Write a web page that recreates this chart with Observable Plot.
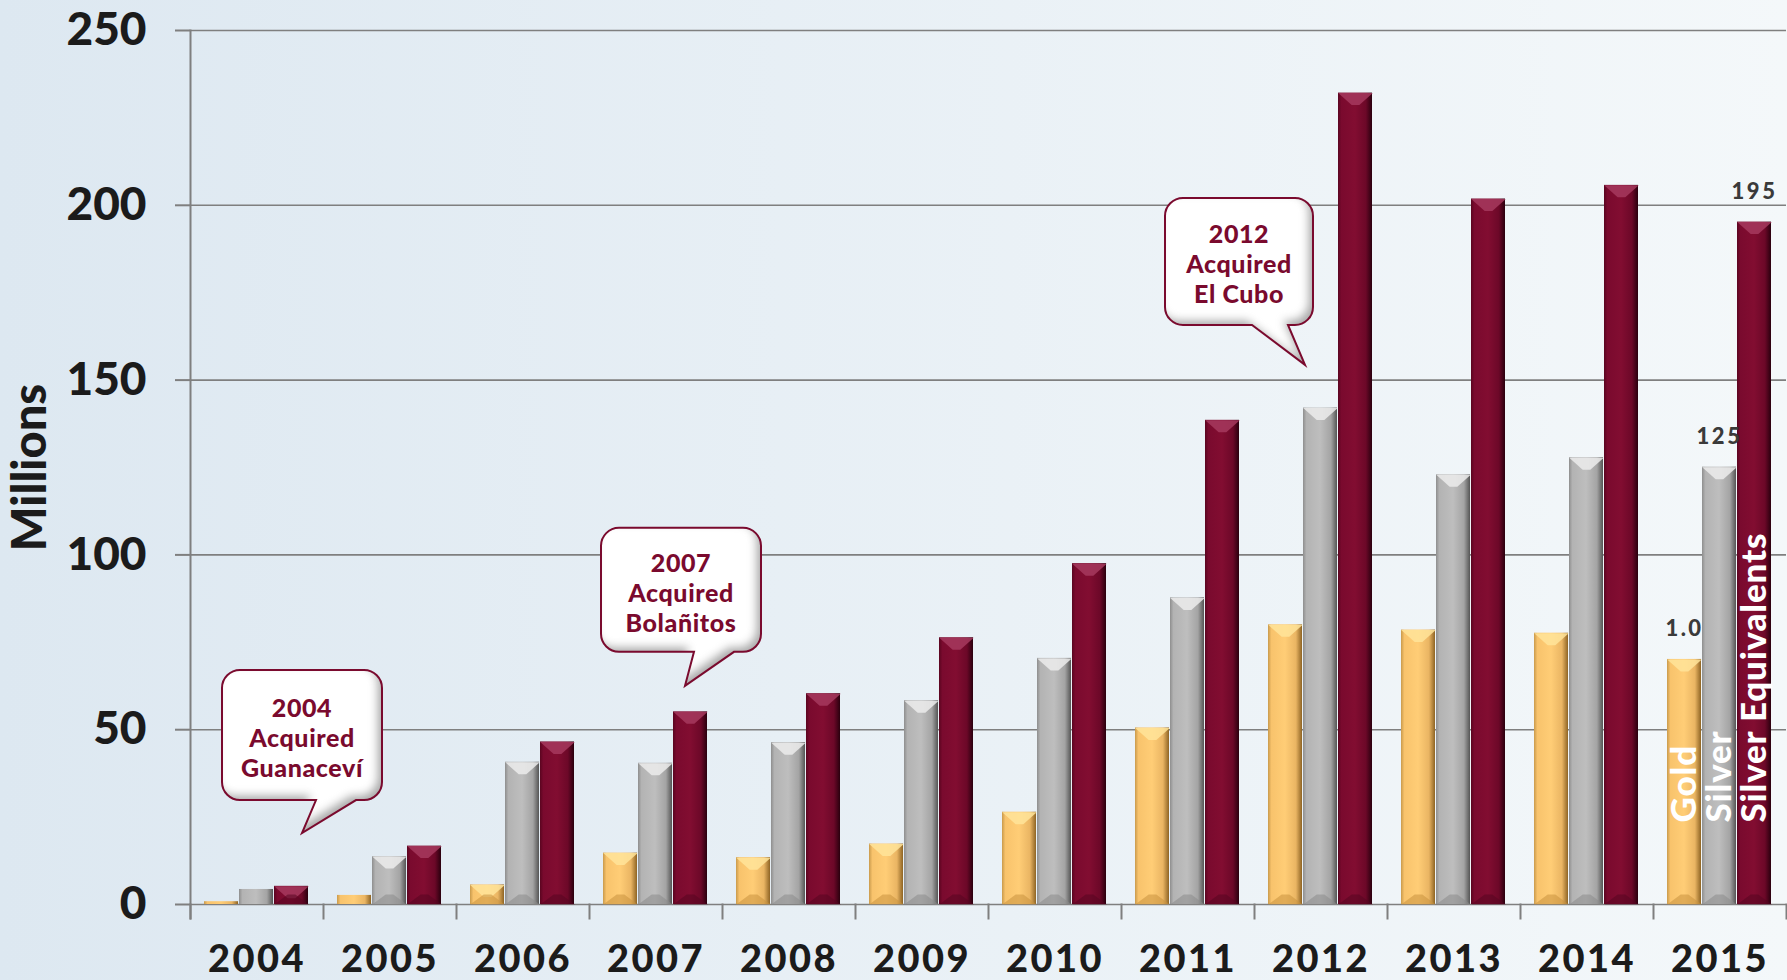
<!DOCTYPE html>
<html><head><meta charset="utf-8">
<script src="https://cdn.jsdelivr.net/npm/d3@7"></script>
<script src="https://cdn.jsdelivr.net/npm/@observablehq/plot@0.6"></script>
<style>
html,body{margin:0;padding:0;background:linear-gradient(to right,#dde8f1,#f4f8fa);}
#chart svg{display:block}
.vlabel text{letter-spacing:2.5px}
.yrs text{letter-spacing:2.5px}
.ser text{letter-spacing:0.8px}
</style></head><body><div id="chart"></div><script>
// ---- data ----
const years = [2004, 2005, 2006, 2007, 2008, 2009, 2010, 2011, 2012, 2013, 2014, 2015];
const seriesNames = ["Gold", "Silver", "Silver Equivalents"];
const gold     = [0.8, 2.6, 5.6, 14.7, 13.4, 17.3, 26.4, 50.5, 80.0, 78.5, 77.6, 70.1];
const silver   = [4.3, 13.7, 40.7, 40.4, 46.3, 58.3, 70.4, 87.7, 142.0, 122.9, 127.8, 125.1];
const silverEq = [5.2, 16.7, 46.5, 55.1, 60.3, 76.3, 97.5, 138.5, 232.1, 201.8, 205.7, 195.2];
const yTicks = [0, 50, 100, 150, 200, 250];

// 2015 value labels
const labelYear = 2015;
const labelSeries = ["Gold", "Silver", "Silver Equivalents"];
const labelValues = [70.1, 125.1, 195.2];
const labelTexts = ["1.0", "125", "195"];

// callouts
const calloutYears = [2004, 2007, 2012];
const calloutSeries = ["Silver Equivalents", "Silver Equivalents", "Silver"];
const calloutValues = [20.3, 62.4, 154.2];
const calloutLines = [["2004", "Acquired", "Guanaceví"], ["2007", "Acquired", "Bolañitos"], ["2012", "Acquired", "El Cubo"]];

// ---- styles ----
const gradId = {"Gold": "g-gold", "Silver": "g-silver", "Silver Equivalents": "g-maroon"};
const bevelTopColor = {"Gold": "#ffe49a", "Silver": "#ececec", "Silver Equivalents": "#a63a5e"};
const bevelBotColor = {"Gold": "#c9923e", "Silver": "#8a8a8a", "Silver Equivalents": "#560620"};
const maroon = "#7a0a2e";
const calloutShape = [
  {dx: 11, left: -80, right: 80, top: -163, bottom: -33, b1: 14, b2: 54},
  {dx: -5, left: -84, right: 76, top: -158, bottom: -34, b1: 9, b2: 49},
  {dx: -15, left: -140, right: 8, top: -167, bottom: -40, b1: -53, b2: -17}
];

// ---- tables ----
const data = years.flatMap((year, i) => [
  {year, series: "Gold", value: gold[i]},
  {year, series: "Silver", value: silver[i]},
  {year, series: "Silver Equivalents", value: silverEq[i]}
]);
const labels = labelSeries.map((series, i) => ({year: labelYear, series, value: labelValues[i], text: labelTexts[i]}));
const seriesLabels = seriesNames.map(series => ({year: labelYear, series}));
const callouts = calloutYears.map((year, i) => ({year, series: calloutSeries[i], value: calloutValues[i], lines: calloutLines[i], shape: calloutShape[i]}));

const bevelTop = {draw(ctx, size) { const w = Math.sqrt(size / Math.PI), h = 12; ctx.moveTo(-w, 0); ctx.lineTo(w, 0); ctx.lineTo(w * 0.22, h); ctx.lineTo(-w * 0.22, h); ctx.closePath(); }};
const bevelBot = {draw(ctx, size) { const w = Math.sqrt(size / Math.PI), h = 10; ctx.moveTo(-w, 0); ctx.lineTo(w, 0); ctx.lineTo(w * 0.22, -h); ctx.lineTo(-w * 0.22, -h); ctx.closePath(); }};

function calloutRender(index, scales, values) {
  const g = d3.create("svg:g");
  const half = scales.x && scales.x.bandwidth ? scales.x.bandwidth() / 2 : 0;
  for (const i of index) {
    const c = callouts[i], s = c.shape;
    const tx = values.x[i] + half + s.dx, ty = values.y[i];
    const L = tx + s.left, R = tx + s.right, T = ty + s.top, B = ty + s.bottom, r = 18;
    const p = d3.path();
    p.moveTo(L + r, T); p.lineTo(R - r, T); p.arcTo(R, T, R, T + r, r);
    p.lineTo(R, B - r); p.arcTo(R, B, R - r, B, r);
    p.lineTo(tx + s.b2, B); p.lineTo(tx, ty); p.lineTo(tx + s.b1, B);
    p.lineTo(L + r, B); p.arcTo(L, B, L, B - r, r);
    p.lineTo(L, T + r); p.arcTo(L, T, L + r, T, r); p.closePath();
    g.append("path").attr("d", p.toString()).attr("fill", "white").attr("filter", "url(#inset)");
    g.append("path").attr("d", p.toString()).attr("fill", "none").attr("stroke", maroon).attr("stroke-width", 2);
    const cx = (L + R) / 2, cy = (T + B) / 2;
    c.lines.forEach((line, k) => {
      g.append("text").attr("x", cx).attr("y", cy + (k - 1) * 30 + 3).attr("dy", "0.35em")
        .attr("text-anchor", "middle").attr("fill", maroon).attr("font-size", 25).attr("font-weight", 900)
        .attr("letter-spacing", "0.6px")
        .text(line);
    });
  }
  return g.node();
}

const chart = Plot.plot({
  width: 1787,
  height: 980,
  marginLeft: 190,
  marginRight: 1,
  marginTop: 30,
  marginBottom: 76,
  style: {fontFamily: "Lato, 'Open Sans', sans-serif", fontWeight: 900, background: "transparent", color: "#1b1b1b", overflow: "visible"},
  fx: {domain: years, paddingInner: 0, paddingOuter: 0, label: null},
  x: {domain: seriesNames, paddingInner: 0.02, paddingOuter: 0.39, axis: null},
  y: {domain: [0, 250], label: null},
  color: {type: "identity"},
  marks: [
    Plot.gridY(yTicks, {stroke: "#7f7f7f", strokeOpacity: 1, strokeWidth: 1.6}),
    Plot.barY(data, {fx: "year", x: "series", y: "value", fill: d => `url(#${gradId[d.series]})`}),
    Plot.dot(data.filter(d => d.value > 5), {fx: "year", x: "series", y: "value", symbol: bevelTop, r: 17.3, fill: d => bevelTopColor[d.series], fillOpacity: 0.85, stroke: "none"}),
    Plot.dot(data.filter(d => d.value > 5), {fx: "year", x: "series", y: () => 0, symbol: bevelBot, r: 17.3, fill: d => bevelBotColor[d.series], fillOpacity: 0.55, stroke: "none"}),
    Plot.frame({anchor: "left", insetTop: 874, insetBottom: -14, stroke: "#7f7f7f", strokeWidth: 2}),
    Plot.frame({anchor: "left", insetBottom: -14, stroke: "#7f7f7f", strokeWidth: 2, facetAnchor: "left"}),
    Plot.frame({anchor: "right", insetTop: 874, insetBottom: -14, stroke: "#7f7f7f", strokeWidth: 2, facetAnchor: "right"}),
    Plot.axisY({ticks: yTicks, tickSize: 15, tickPadding: 29, fontSize: 46, stroke: "#7f7f7f", strokeWidth: 2, label: null}),
    Plot.axisY({ticks: [], label: "Millions", labelAnchor: "center", labelArrow: "none", labelOffset: 178, fontSize: 47}),
    Plot.axisFx({anchor: "bottom", tickSize: 0, tickPadding: 41, fontSize: 38, tickFormat: d => String(d), label: null, className: "yrs"}),
    Plot.text(labels, {fx: "year", x: "series", y: "value", text: "text", dy: -30, fontSize: 22, fill: "#3a3a3a", className: "vlabel"}),
    Plot.text(seriesLabels, {fx: "year", x: "series", y: () => 0, text: "series", rotate: -90, textAnchor: "start", dy: -82, fontSize: 35, fill: "white", className: "ser"}),
    Plot.text(callouts, {fx: "year", x: "series", y: "value", text: d => d.lines.join(" "), render: calloutRender})
  ]
});

const defs = d3.select(chart).insert("defs", ":first-child");
function grad(id, stops) {
  const lg = defs.append("linearGradient").attr("id", id).attr("x1", 0).attr("x2", 1).attr("y1", 0).attr("y2", 0);
  stops.forEach(([o, c]) => lg.append("stop").attr("offset", o).attr("stop-color", c));
}
grad("g-gold", [[0, "#c99a4c"], [0.1, "#f8c36c"], [0.5, "#ffcd76"], [0.82, "#eab563"], [1, "#8e6424"]]);
grad("g-silver", [[0, "#8e8e8e"], [0.1, "#b3b3b3"], [0.5, "#bebebe"], [0.82, "#a4a4a4"], [1, "#555555"]]);
grad("g-maroon", [[0, "#5a0520"], [0.1, "#7a0a2e"], [0.5, "#820d31"], [0.82, "#6c0828"], [1, "#2a000e"]]);
const f = defs.append("filter").attr("id", "inset").attr("x", "-10%").attr("y", "-10%").attr("width", "120%").attr("height", "120%");
f.append("feOffset").attr("dx", -5).attr("dy", -5).attr("in", "SourceAlpha").attr("result", "off");
f.append("feGaussianBlur").attr("in", "off").attr("stdDeviation", 4).attr("result", "blur");
f.append("feComposite").attr("operator", "out").attr("in", "SourceAlpha").attr("in2", "blur").attr("result", "inv");
f.append("feFlood").attr("flood-color", "#8a8a8a").attr("flood-opacity", 0.8).attr("result", "col");
f.append("feComposite").attr("operator", "in").attr("in", "col").attr("in2", "inv").attr("result", "sh");
const fm = f.append("feMerge");
fm.append("feMergeNode").attr("in", "SourceGraphic");
fm.append("feMergeNode").attr("in", "sh");

document.getElementById("chart").append(chart);
</script></body></html>
